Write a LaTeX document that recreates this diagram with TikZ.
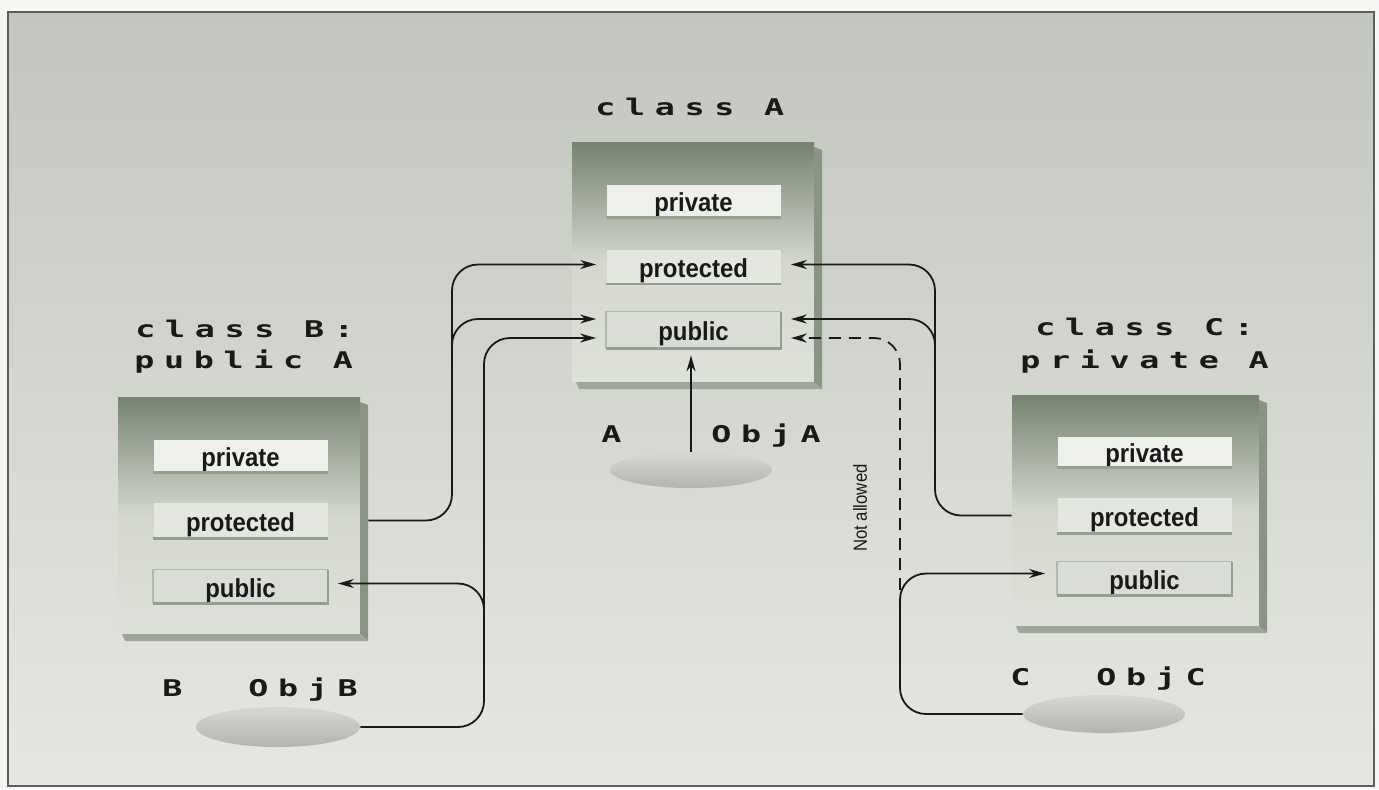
\documentclass[tikz,border=0pt]{standalone}
\usepackage{fontspec}
\usetikzlibrary{arrows.meta,shapes.geometric}
\newfontfamily\codefont[FakeStretch=1.45,LetterSpace=42]{DejaVu Sans Mono}
\newfontfamily\slotfont[FakeStretch=0.92]{Liberation Sans}
\newfontfamily\nafont[FakeStretch=0.88]{Liberation Sans}
\definecolor{paper}{RGB}{246,246,244}
\definecolor{bgtop}{RGB}{194,198,190}
\definecolor{bgbot}{RGB}{230,231,226}
\definecolor{framecol}{RGB}{90,95,88}
\definecolor{boxdark}{RGB}{118,131,112}
\definecolor{boxmid}{RGB}{186,192,180}
\definecolor{boxlight}{RGB}{222,225,217}
\definecolor{boxside}{RGB}{138,148,133}
\definecolor{slotpriv}{RGB}{238,240,235}
\definecolor{slotprot}{RGB}{228,231,224}
\definecolor{slotpub}{RGB}{218,221,213}
\definecolor{slotline}{RGB}{150,158,145}
\definecolor{elltop}{RGB}{214,216,210}
\definecolor{ellbot}{RGB}{178,180,174}
\definecolor{ink}{RGB}{25,25,25}
\newcommand{\myclassbox}[5]{%
  \shade[top color=boxdark, bottom color=boxlight, middle color=boxmid!30!boxlight]
    (#2,#3) rectangle ({#2+#4-8},{#3+#5-7});
  \fill[boxside] ({#2+#4-8},{#3+5}) -- ({#2+#4},{#3+8}) -- ({#2+#4},{#3+#5}) -- ({#2+#4-8},{#3+#5-7}) -- cycle;
  \fill[boxside!75!boxlight] ({#2+4},{#3+#5-7}) -- ({#2+#4-8},{#3+#5-7}) -- ({#2+#4},{#3+#5}) -- ({#2+7},{#3+#5}) -- cycle;
  \node[inner sep=0pt, minimum width={#4*0.5pt}, minimum height={#5*0.5pt}] (#1box) at ({#2+#4/2},{#3+#5/2}) {};
}
\begin{document}
\begin{tikzpicture}[x=0.5pt,y=-0.5pt,
  slotbox/.style={inner sep=0pt, minimum width=87pt, minimum height=16pt,
    text height=12pt, text depth=1.5pt, text=ink,
    font=\slotfont\bfseries\fontsize{13}{13}\selectfont},
  codetxt/.style={anchor=base west, inner sep=0pt, text=ink,
    font=\codefont\bfseries\fontsize{11.5}{11.5}\selectfont},
  objell/.style={ellipse, inner sep=0pt, minimum width=81pt, minimum height=18pt,
    top color=elltop, bottom color=ellbot},
  slotedge/.style={slotline, line width=1.2pt},
  conn/.style={draw=ink, line width=0.9pt, rounded corners=13pt},
  arr/.style={-{Stealth[length=8pt,width=4.5pt]}}]
\useasboundingbox (0,0) rectangle (1379,789);
\fill[paper] (0,0) rectangle (1379,789);
\shade[top color=bgtop, bottom color=bgbot] (8,12) rectangle (1374,786);
\draw[framecol, line width=0.8pt] (8,12) rectangle (1374,786);

% class boxes
\myclassbox{A}{572}{142}{250}{247}
\myclassbox{B}{118}{397}{250}{244}
\myclassbox{C}{1012}{395}{255}{238}

% slots
\node[slotbox, fill=slotpriv] (Apriv) at (693.5,201) {private};
\node[slotbox, fill=slotprot, minimum height=17pt] (Aprot) at (693.5,266.5) {protected};
\node[slotbox, fill=slotpub, minimum height=18pt] (Apub) at (693.5,330) {public};
\node[slotbox, fill=slotpriv] (Bpriv) at (240.5,456) {private};
\node[slotbox, fill=slotprot, minimum height=17.5pt] (Bprot) at (240.5,520.5) {protected};
\node[slotbox, fill=slotpub, minimum height=16.5pt] (Bpub) at (240.5,586.5) {public};
\node[slotbox, fill=slotpriv, minimum height=15pt] (Cpriv) at (1144.5,452) {private};
\node[slotbox, fill=slotprot, minimum height=17.5pt] (Cprot) at (1144.5,515.5) {protected};
\node[slotbox, fill=slotpub, minimum height=16.5pt] (Cpub) at (1144.5,578.5) {public};
\foreach \s in {Apriv,Bpriv,Cpriv,Aprot,Bprot,Cprot}
  \draw[slotedge] (\s.south west) -- (\s.south east);
\foreach \s in {Apub,Bpub,Cpub}{
  \draw[slotline!60!slotpub, line width=0.8pt] (\s.south west) -- (\s.north west) -- (\s.north east);
  \draw[slotedge] (\s.south west) -- (\s.south east) -- (\s.north east);
}

% titles and labels
\node[codetxt] (tA) at (595,115) {class A};
\node[codetxt] (tB1) at (135,337) {class B:};
\node[codetxt] (tB2) at (134,368) {public A};
\node[codetxt] (tC1) at (1035,335) {class C:};
\node[codetxt] (tC2) at (1020,368) {private A};
\node[codetxt] (lA) at (601,442) {A};
\node[codetxt] (oA) at (711,442) {ObjA};
\node[codetxt] (lB) at (162,696) {B};
\node[codetxt] (oB) at (248,696) {ObjB};
\node[codetxt] (lC) at (1010,685) {C};
\node[codetxt] (oC) at (1096,685) {ObjC};

% objects
\node[objell] (eA) at (691,470) {};
\node[objell, minimum width=82pt, minimum height=20pt] (eB) at (278,727) {};
\node[objell, minimum height=19pt] (eC) at (1104,714) {};

\node[rotate=90, inner sep=0pt, text=ink, font=\nafont\fontsize{9.5}{9.5}\selectfont] (na) at (860,508) {Not allowed};

% connector coordinates
\coordinate (aPL) at ([xshift=-5pt,yshift=1pt]Aprot.west);
\coordinate (aPR) at ([xshift=5pt,yshift=1pt]Aprot.east);
\coordinate (aUL) at ([xshift=-5pt,yshift=5.5pt]Apub.west);
\coordinate (aLL) at ([xshift=-5pt,yshift=-4pt]Apub.west);
\coordinate (aUR) at ([xshift=5pt,yshift=5.5pt]Apub.east);
\coordinate (aLR) at ([xshift=5pt,yshift=-4pt]Apub.east);
\coordinate (bP) at ([xshift=5pt,yshift=1.5pt]Bpub.east);
\coordinate (cP) at ([xshift=-6pt,yshift=2.5pt]Cpub.west);
\coordinate (vB1) at (452,0);
\coordinate (vB2) at (484,0);
\coordinate (vC1) at (935,0);
\coordinate (jB1) at (452,352);
\coordinate (jB2) at (484,615);
\coordinate (jC1) at (935,352);
\coordinate (jC2) at (900,610);

% connectors
\draw[conn,arr] (Bbox.east |- Bprot.east) -| (vB1 |- aPL) -- (aPL);
\draw[conn,arr] (jB1) |- (aUL);
\draw[conn,arr] (eB.east) -| (vB2 |- aLL) -- (aLL);
\draw[conn,arr] (jB2) |- (bP);
\draw[conn,arr] (Cbox.west |- Cprot.west) -| (vC1 |- aPR) -- (aPR);
\draw[conn,arr] (jC1) |- (aUR);
\draw[conn] (eC.west) -| (jC2);
\draw[conn,arr] (jC2) |- (cP);
\draw[conn,arr,dash pattern=on 6pt off 4pt] (jC2) |- (aLR);
\draw[conn,arr,shorten >=3.5pt] (eA.north) -- (eA.north |- Apub.south);
\end{tikzpicture}
\end{document}
